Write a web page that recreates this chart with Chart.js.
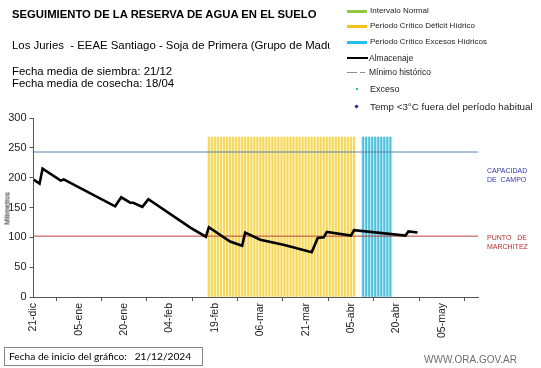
<!DOCTYPE html>
<html><head><meta charset="utf-8">
<script src="https://cdn.jsdelivr.net/npm/chart.js@4.4.1/dist/chart.umd.min.js"></script>
<style>
html,body{margin:0;padding:0;background:#fff;}
#wrap{position:relative;width:541px;height:368px;overflow:hidden;font-family:"Liberation Sans",Arial,sans-serif;color:#000;}
#c{position:absolute;left:0;top:0;}
.t{position:absolute;white-space:nowrap;line-height:1;}
.lg{position:absolute;white-space:nowrap;line-height:1;font-size:8px;color:#222;}
.ic{position:absolute;}
</style></head><body>
<div id="wrap">
<canvas id="c" width="541" height="368"></canvas>

<div class="t" style="left:12px;top:9px;font-weight:bold;font-size:11.3px;">SEGUIMIENTO DE LA RESERVA DE AGUA EN EL SUELO</div>
<div class="t" style="left:12px;top:40px;font-size:11.4px;width:318px;overflow:hidden;">Los Juries&nbsp; - EEAE Santiago - Soja de Primera (Grupo de Madurez</div>
<div class="t" style="left:12px;top:65px;font-size:11.4px;line-height:12px;">Fecha media de siembra: 21/12<br>Fecha media de cosecha: 18/04</div>

<!-- legend -->
<div class="ic" style="left:347px;top:10px;width:20px;height:3px;background:#93c740;"></div>
<div class="lg" style="left:370px;top:7px;">Intervalo Normal</div>
<div class="ic" style="left:347px;top:25px;width:20px;height:3px;background:#f5c21a;"></div>
<div class="lg" style="left:370px;top:22px;">Periodo Crítico Déficit Hídrico</div>
<div class="ic" style="left:347px;top:41px;width:20px;height:3px;background:#22bfe8;"></div>
<div class="lg" style="left:370px;top:38px;">Periodo Crítico Excesos Hídricos</div>
<div class="ic" style="left:347px;top:57px;width:21px;height:2px;background:#000;"></div>
<div class="lg" style="left:369px;top:54px;font-size:8.5px;">Almacenaje</div>
<div class="ic" style="left:347px;top:72px;width:10px;height:1px;background:#888;"></div>
<div class="ic" style="left:360px;top:72px;width:5px;height:1px;background:#888;"></div>
<div class="lg" style="left:369px;top:68px;font-size:8.5px;">Mínimo histórico</div>
<div class="ic" style="left:356px;top:88px;width:2px;height:2px;background:#27b5d6;"></div>
<div class="lg" style="left:370px;top:85px;font-size:9px;">Exceso</div>
<div class="ic" style="left:355px;top:105px;width:3px;height:3px;background:#1c1c9c;transform:rotate(45deg);"></div>
<div class="lg" style="left:370px;top:102px;font-size:9.8px;">Temp &lt;3°C fuera del período habitual</div>

<!-- right annotations -->
<div class="t" style="left:487px;top:167px;font-size:7px;line-height:8.5px;color:#3535b5;">CAPACIDAD<br>DE&nbsp; CAMPO</div>
<div class="t" style="left:487px;top:233px;font-size:7px;line-height:9px;color:#b33030;">PUNTO&nbsp;&nbsp; DE<br>MARCHITEZ</div>

<div class="t" style="left:-13px;top:205px;font-size:7px;transform:rotate(-90deg);width:40px;text-align:center;">Milímetros</div>

<div class="t" style="left:4px;top:347px;width:199px;height:19px;border:1px solid #8e7f89;box-sizing:border-box;"></div>
<div class="t" style="left:9px;top:351px;font-size:10.2px;font-family:Lato,'Liberation Sans',sans-serif;">Fecha de inicio del gráfico:&nbsp;&nbsp; 21/12/2024</div>
<div class="t" style="left:424px;top:355px;font-size:10px;color:#6f6f6f;">WWW.ORA.GOV.AR</div>
</div>

<script>
// --- data ---
const tickLabels = ["21-dic","05-ene","20-ene","04-feb","19-feb","06-mar","21-mar","05-abr","20-abr","05-may"];
// días desde 21-dic
const almDias  = [0,2,3,9,10,27,29,32,33,36,38,52,57,58,65,69,70,75,83,92,94,96,97,105,106,123,124,127];
const almValor = [197,190,215,195,197,152,167,158,158,151,164,116,101,117,93,86,108,96,87,75,99,100,109,103,112,103,110,108];
const capacidadCampo = 243;
const puntoMarchitez = 102;
const periodoDeficit = [58,106];   // primer y último día
const periodoExceso  = [109,118];
const alturaPeriodo  = 268;
const diasEje = 147;

function rango(r){ const out=[]; for(let d=r[0]; d<=r[1]; d++) out.push({x:d,y:alturaPeriodo}); return out; }
const almData = almDias.map((d,i)=>({x:d,y:almValor[i]}));

new Chart(document.getElementById('c'),{
  type:'bar',
  data:{datasets:[
    {type:'line',label:'Almacenaje',data:almData,borderColor:'#000',borderWidth:2.6,pointRadius:0,tension:0,order:1},
    {type:'line',label:'Capacidad de campo',data:[{x:0,y:capacidadCampo},{x:diasEje,y:capacidadCampo}],borderColor:'#5d80b6',borderWidth:1,pointRadius:0,order:2},
    {type:'line',label:'Punto de marchitez',data:[{x:0,y:puntoMarchitez},{x:diasEje,y:puntoMarchitez}],borderColor:'#b9443f',borderWidth:1,pointRadius:0,order:2},
    {label:'Déficit fondo',data:rango(periodoDeficit),backgroundColor:'#fdf5cc',barThickness:3.1,grouped:false,order:4},
    {label:'Déficit',data:rango(periodoDeficit),backgroundColor:'#f5d655',barThickness:1.2,grouped:false,order:3},
    {label:'Exceso fondo',data:rango(periodoExceso),backgroundColor:'#c9ecf4',barThickness:3.1,grouped:false,order:4},
    {label:'Exceso',data:rango(periodoExceso),backgroundColor:'#4cc0dd',barThickness:1.2,grouped:false,order:3}
  ]},
  options:{
    responsive:false,animation:false,devicePixelRatio:1,
    layout:{padding:{top:118,right:63,left:0,bottom:0}},
    plugins:{legend:{display:false},tooltip:{enabled:false}},
    scales:{
      x:{type:'linear',min:0,max:diasEje,offset:false,
        afterFit:(s)=>{s.height=71;},
        ticks:{stepSize:15,includeBounds:false,autoSkip:false,maxRotation:90,minRotation:90,
          color:'#222',font:{size:10.5,family:'Liberation Sans'},padding:2,
          callback:(v)=>tickLabels[Math.round(v/15)]||''},
        grid:{drawOnChartArea:false,drawTicks:true,tickLength:4,color:'#555'},
        border:{color:'#555',width:1}},
      y:{min:0,max:300,
        afterFit:(s)=>{s.width=33.5;},
        ticks:{stepSize:50,color:'#222',font:{size:11,family:'Liberation Sans'},padding:3},
        grid:{drawOnChartArea:false,drawTicks:true,tickLength:4,color:'#555'},
        border:{color:'#555',width:1}}
    }
  }
});
</script>
</body></html>
